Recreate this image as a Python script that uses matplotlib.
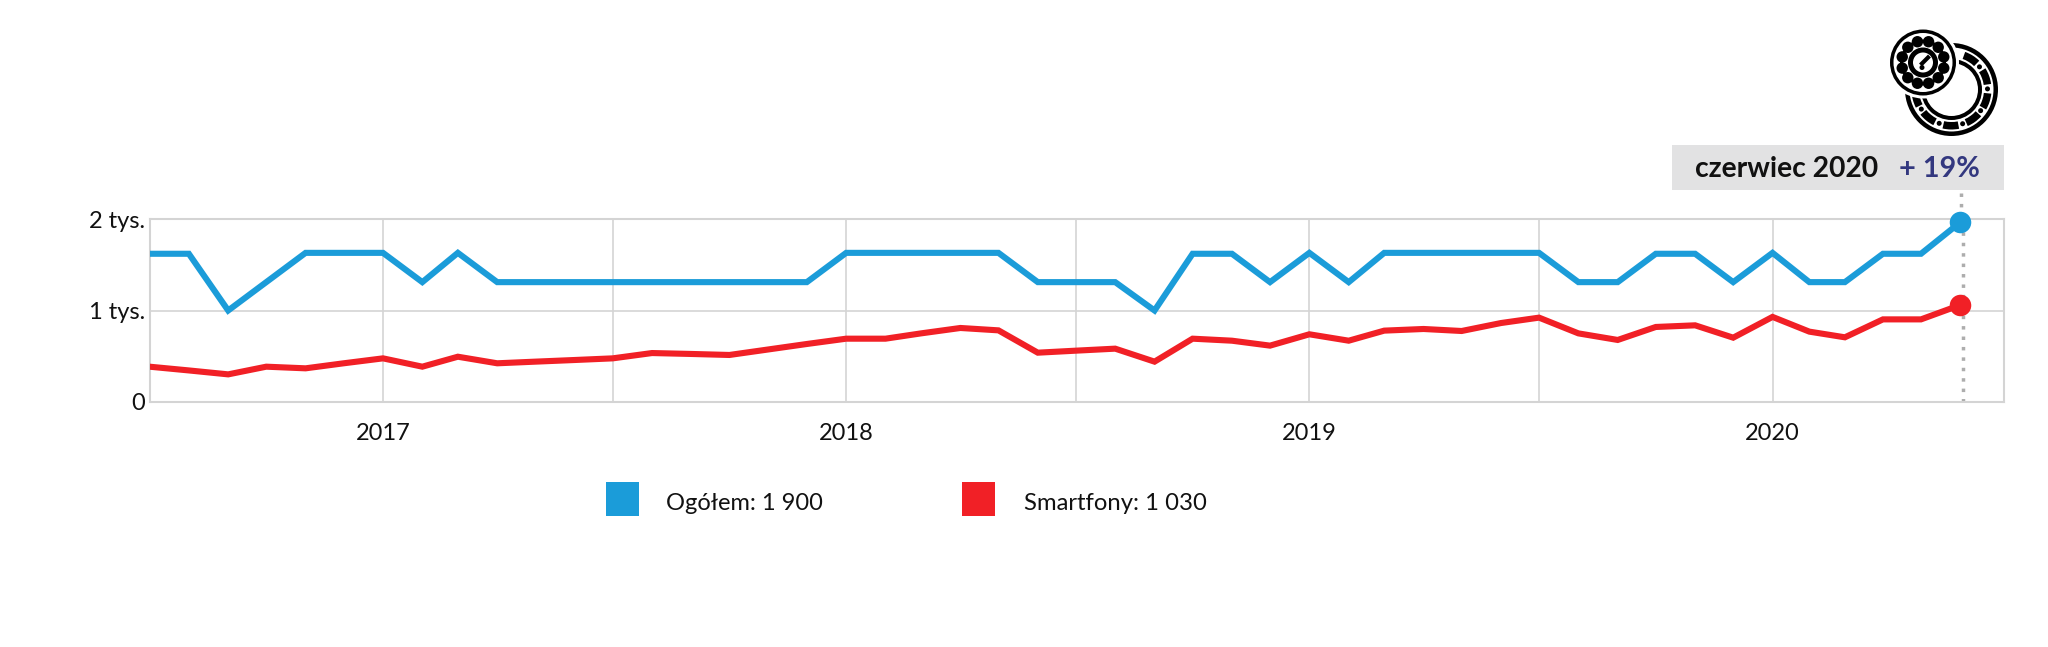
import numpy as np
import pandas as pd
import matplotlib
matplotlib.use('Agg')
from matplotlib import pyplot as plt
from matplotlib import dates as mdates
from matplotlib.patches import Circle, Wedge, Rectangle

plt.rcParams['font.family'] = ['Lato', 'DejaVu Sans']

months = pd.date_range('2016-07-01', '2020-06-01', freq='MS')
# the last points sit a few days before the month start in the picture
day_shift = [0] * 43 + [-2, -3, -4, -4, -4]

ogolem = [1620, 1620, 1000, 1310, 1630, 1630, 1630, 1310, 1630, 1310, 1310, 1310,
          1310, 1310, 1310, 1310, 1310, 1310, 1630, 1630, 1630, 1630, 1630, 1310,
          1310, 1310, 1000, 1620, 1620, 1310, 1630, 1310, 1630, 1630, 1630, 1630,
          1630, 1310, 1310, 1620, 1620, 1310, 1630, 1310, 1310, 1620, 1620, 1965]
smartfony = [386, 345, 302, 386, 368, 423, 477, 386, 495, 423, 441, 459,
             477, 535, 525, 514, 575, 634, 692, 692, 750, 809, 783, 539,
             561, 583, 441, 692, 670, 616, 740, 670, 780, 798, 776, 863,
             922, 750, 678, 820, 838, 703, 930, 769, 707, 903, 903, 1060]

year_ticks = ['2017-01-01', '2018-01-01', '2019-01-01', '2020-01-01']
half_ticks = ['2017-07-01', '2018-07-01', '2019-07-01']
year_labels = ['2017', '2018', '2019', '2020']
y_ticks = [0, 1000, 2000]
y_labels = ['0', '1 tys.', '2 tys.']

legend_texts = ['Ogółem: 1 900', 'Smartfony: 1 030']
box_date = 'czerwiec 2020'
box_change = '+ 19%'

BLUE = '#1b9cd9'
RED = '#f12026'
GRID = '#d4d4d4'
W, H = 2048, 647

x = months + pd.to_timedelta(day_shift, unit='D')

fig = plt.figure(figsize=(W / 100, H / 100), dpi=100)

# main plot, placed in pixels
left, right, top, bottom = 149.5, 2003.5, 219, 402
ax = fig.add_axes([left / W, 1 - bottom / H, (right - left) / W, (bottom - top) / H])
ax.plot(x, ogolem, color=BLUE, lw=4.4, solid_joinstyle='miter', zorder=3)
ax.plot(x, smartfony, color=RED, lw=4.4, solid_joinstyle='miter', zorder=3)
ax.axvline(x[-1] + pd.Timedelta(days=2), color='#adadad', lw=2.5, ls=(0, (1, 2)), zorder=2)
ax.plot(x[-1], ogolem[-1], 'o', color=BLUE, ms=15.5, mew=0, zorder=4, clip_on=False)
ax.plot(x[-1], smartfony[-1], 'o', color=RED, ms=15.5, mew=0, zorder=4, clip_on=False)

ax.set_xlim(pd.Timestamp('2016-07-01'), pd.Timestamp('2020-07-01'))
ax.set_ylim(0, 2000)
ax.set_yticks(y_ticks)
ax.set_yticklabels(y_labels)
ax.set_xticks([mdates.date2num(pd.Timestamp(d)) for d in year_ticks])
ax.set_xticklabels(year_labels)
ax.set_xticks([mdates.date2num(pd.Timestamp(d)) for d in half_ticks], minor=True)
ax.grid(True, which='both', color=GRID, lw=1.2)
ax.set_axisbelow(True)
ax.tick_params(which='both', length=0)
ax.tick_params(axis='x', labelsize=17, pad=15, colors='#111111')
ax.tick_params(axis='y', labelsize=17, pad=3, colors='#111111')
for s in ax.spines.values():
    s.set_color(GRID)
    s.set_linewidth(1.5)

# overlay in pixel coordinates for legend, label box and icon
ov = fig.add_axes([0, 0, 1, 1])
ov.set_xlim(0, W)
ov.set_ylim(H, 0)
ov.axis('off')
ov.patch.set_alpha(0)

ov.add_patch(Rectangle((606, 482), 33, 34, color=BLUE, lw=0))
ov.add_patch(Rectangle((962, 482), 33, 34, color=RED, lw=0))
ov.text(666, 504, legend_texts[0], fontsize=17, va='center', color='#111111')
ov.text(1024, 504, legend_texts[1], fontsize=17.2, va='center', color='#111111')

ov.add_patch(Rectangle((1672, 145), 332, 45, color='#e2e2e3', lw=0))
ov.text(1695, 169, box_date, fontsize=20.3, fontweight='bold', va='center', color='#111111')
ov.text(1899, 169, box_change, fontsize=20.8, fontweight='bold', va='center', color='#33387f')
ov.plot([1961, 1961], [193, 209], color='#adadad', lw=2.5, ls=(0, (1, 2)))


def bearing_icon(a):
    # large ring
    cx, cy = 1951.5, 89.5
    a.add_patch(Circle((cx, cy), 46.5, color='black', lw=0))
    a.add_patch(Circle((cx, cy), 42, color='white', lw=0))
    for ang in [58, 20, -18, -54, -91, -129, -165]:
        a.add_patch(Wedge((cx, cy), 40, -ang - 12, -ang + 12, width=7.5, color='black', lw=0))
    for ang in [39, 1, -36, -72, -110, -147]:
        t = np.radians(ang)
        a.add_patch(Circle((cx + 36 * np.cos(t), cy - 36 * np.sin(t)), 2.5, color='black', lw=0))
    a.add_patch(Circle((cx, cy), 30.5, color='black', lw=0))
    a.add_patch(Circle((cx, cy), 26.5, color='white', lw=0))
    # small ring on top
    cx, cy = 1923, 62.5
    a.add_patch(Circle((cx, cy), 36, color='white', lw=0))
    a.add_patch(Circle((cx, cy), 33, color='black', lw=0))
    a.add_patch(Circle((cx, cy), 29.5, color='white', lw=0))
    a.add_patch(Wedge((cx, cy), 23, 0, 360, width=3, color='black', lw=0))
    for i in range(12):
        t = np.radians(15 + i * 30)
        a.add_patch(Circle((cx + 21.5 * np.cos(t), cy + 21.5 * np.sin(t)), 5.7, color='black', lw=0))
    a.add_patch(Circle((cx, cy), 15, color='black', lw=0))
    a.add_patch(Circle((cx, cy), 10, color='white', lw=0))
    a.plot([cx - 1, cx + 5], [cy + 1, cy - 5], color='black', lw=3)
    a.add_patch(Circle((cx - 1, cy + 5), 2.5, color='black', lw=0))


bearing_icon(ov)

fig.savefig('out.png', dpi=100)
